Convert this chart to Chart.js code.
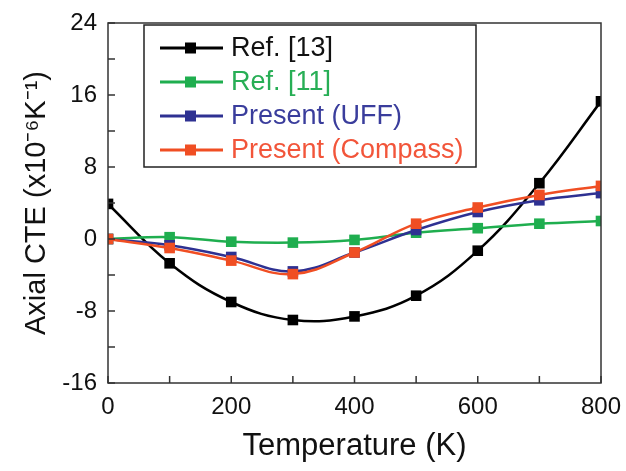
<!DOCTYPE html>
<html>
<head>
<meta charset="utf-8">
<script src="https://cdn.jsdelivr.net/npm/chart.js@4/dist/chart.umd.min.js"></script>
<style>
  html, body { margin: 0; padding: 0; background: #fff; }
  #wrap { width: 626px; height: 471px; }
</style>
</head>
<body>
<div id="wrap"><canvas id="cte"></canvas></div>
<script>
const temps = [0, 100, 200, 300, 400, 500, 600, 700, 800]
const ref13 = [3.9, -2.7, -7.0, -9.0, -8.6, -6.3, -1.3, 6.2, 15.3]
const ref11 = [0, 0.2, -0.3, -0.4, -0.1, 0.7, 1.2, 1.7, 2.0]
const uff = [0, -0.7, -2.0, -3.6, -1.5, 1.0, 3.0, 4.3, 5.1]
const compass = [0, -1.0, -2.4, -3.9, -1.5, 1.7, 3.5, 4.9, 5.9]
const xTicks = [0, 200, 400, 600, 800]
const xMinor = [100, 300, 500, 700]
const yTicks = [-16, -8, 0, 8, 16, 24]
const yMinor = [-12, -4, 4, 12, 20]

const font = 'Arial, "Liberation Sans", sans-serif'

function series(label, values, color, textColor, order) {
  return {
    label: label,
    data: temps.map((t, i) => ({ x: t, y: values[i] })),
    borderColor: color,
    backgroundColor: color,
    textColor: textColor,
    borderWidth: 2.5,
    pointStyle: 'rect',
    pointRadius: 7.5,
    pointBorderWidth: 0,
    tension: 0.4,
    order: order
  }
}

// inward ticks, frame and the boxed legend
const decor = {
  id: 'decor',
  afterDatasetsDraw(chart) {
    const ctx = chart.ctx
    const a = chart.chartArea
    const xs = chart.scales.x
    const ys = chart.scales.y
    ctx.save()
    ctx.strokeStyle = '#333'
    ctx.lineWidth = 1.5
    ctx.strokeRect(a.left, a.top, a.right - a.left, a.bottom - a.top)
    ctx.beginPath()
    xTicks.concat(xMinor).forEach(v => {
      const px = xs.getPixelForValue(v)
      ctx.moveTo(px, a.bottom)
      ctx.lineTo(px, a.bottom - 7)
    })
    yTicks.concat(yMinor).forEach(v => {
      const py = ys.getPixelForValue(v)
      ctx.moveTo(a.left, py)
      ctx.lineTo(a.left + 7, py)
    })
    ctx.stroke()

    // legend
    const lx = 144, ly = 25, lw = 332, lh = 142
    ctx.fillStyle = '#fff'
    ctx.fillRect(lx, ly, lw, lh)
    ctx.strokeStyle = '#222'
    ctx.lineWidth = 1.5
    ctx.strokeRect(lx, ly, lw, lh)
    ctx.font = '27px ' + font
    ctx.textBaseline = 'middle'
    chart.data.datasets.forEach((ds, i) => {
      const y = 48 + i * 34
      ctx.strokeStyle = ds.borderColor
      ctx.lineWidth = 3
      ctx.beginPath()
      ctx.moveTo(160, y)
      ctx.lineTo(223, y)
      ctx.stroke()
      ctx.fillStyle = ds.borderColor
      ctx.fillRect(185, y - 5.5, 11, 11)
      ctx.fillStyle = ds.textColor
      ctx.fillText(ds.label, 231, y + 1)
    })
    ctx.restore()
  }
}

const ctx = document.getElementById('cte')
new Chart(ctx, {
  type: 'line',
  data: {
    datasets: [
      series('Ref. [13]', ref13, '#000000', '#111111', 3),
      series('Ref. [11]', ref11, '#1fae4f', '#27ae55', 2),
      series('Present (UFF)', uff, '#2e3192', '#3a3d9c', 1),
      series('Present (Compass)', compass, '#f04e23', '#f2553a', 0)
    ]
  },
  options: {
    responsive: true,
    maintainAspectRatio: false,
    animation: false,
    layout: { padding: { top: 23, right: 25, left: 0, bottom: 0 } },
    plugins: {
      legend: { display: false },
      tooltip: { enabled: false }
    },
    scales: {
      x: {
        type: 'linear',
        min: 0,
        max: 800,
        afterFit: s => { s.height = 88 },
        afterBuildTicks: s => { s.ticks = xTicks.map(v => ({ value: v })) },
        grid: { display: false },
        border: { display: false },
        ticks: { color: '#111', padding: 2, font: { family: font, size: 24 } },
        title: {
          display: true,
          text: 'Temperature (K)',
          color: '#111',
          font: { family: font, size: 31 },
          padding: { top: 0, bottom: 6 }
        }
      },
      y: {
        min: -16,
        max: 24,
        afterFit: s => { s.width = 108 },
        afterBuildTicks: s => { s.ticks = yTicks.map(v => ({ value: v })) },
        grid: { display: false },
        border: { display: false },
        ticks: { color: '#111', padding: 3, font: { family: font, size: 24 } },
        title: {
          display: true,
          text: 'Axial CTE (x10⁻⁶K⁻¹)',
          color: '#111',
          font: { family: font, size: 29 },
          padding: { top: 20, bottom: 0 }
        }
      }
    }
  },
  plugins: [decor]
})
</script>
</body>
</html>
